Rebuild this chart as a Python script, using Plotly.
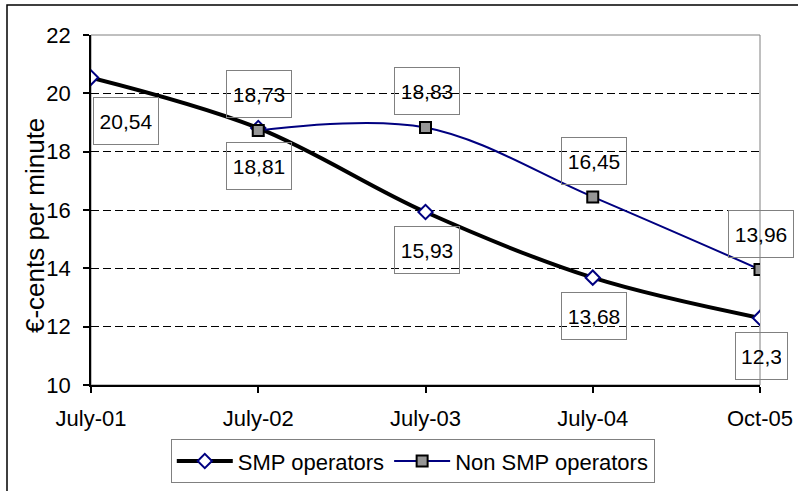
import plotly.graph_objects as go

categories = ["July-01", "July-02", "July-03", "July-04", "Oct-05"]
smp_values = [20.54, 18.81, 15.93, 13.68, 12.3]
non_smp_values = [None, 18.73, 18.83, 16.45, 13.96]
smp_labels = ["20,54", "18,81", "15,93", "13,68", "12,3"]
non_smp_labels = [None, "18,73", "18,83", "16,45", "13,96"]
y_ticks = [10, 12, 14, 16, 18, 20, 22]
y_title = "€-cents per minute"

FONT = "Liberation Sans, Arial, sans-serif"

fig = go.Figure()
fig.add_trace(go.Scatter(
    x=categories, y=smp_values, name="SMP operators", mode="lines+markers",
    line=dict(color="black", width=4, shape="spline", smoothing=1),
    marker=dict(symbol="diamond", size=11, color="white",
                line=dict(color="#000080", width=2)),
))
fig.add_trace(go.Scatter(
    x=categories, y=non_smp_values, name="Non SMP operators", mode="lines+markers",
    line=dict(color="#000080", width=2, shape="spline", smoothing=1),
    marker=dict(symbol="square", size=11, color="#969696",
                line=dict(color="black", width=2)),
    connectgaps=False,
))

annotations = []
def label(x, y, text, xshift, yshift):
    w = 39 if len(text) < 5 else 52
    annotations.append(dict(
        x=x, y=y, xref="x", yref="y", text=text, showarrow=False,
        xshift=xshift, yshift=yshift, width=w, height=34, borderpad=6,
        bordercolor="#808080", borderwidth=1, bgcolor="rgba(0,0,0,0)",
        font=dict(family=FONT, size=21, color="black"),
    ))

for i, (c, v, t) in enumerate(zip(categories, smp_values, smp_labels)):
    if i == 0:
        label(c, v, t, 35, -43)
    else:
        label(c, v, t, 1, -38)
for c, v, t in zip(categories, non_smp_values, non_smp_labels):
    if v is not None:
        label(c, v, t, 1, 36)

# y-axis title as rotated annotation (placed like the reference)
annotations.append(dict(
    x=(35 - 91) / 669, y=(385 - 226) / 350, xref="paper", yref="paper",
    text=y_title, textangle=-90, showarrow=False,
    xanchor="center", yanchor="middle",
    font=dict(family=FONT, size=26, color="black"),
))

FX0 = (7 - 91) / 669
FX1 = (810 - 91) / 669
FY0 = (385 - 500) / 350
FY1 = (385 - 5) / 350

fig.update_layout(
    template="none",
    width=798, height=491,
    margin=dict(l=91, r=38, t=35, b=106, autoexpand=False),
    paper_bgcolor="white", plot_bgcolor="white",
    font=dict(family=FONT, size=21, color="black"),
    showlegend=True,
    legend=dict(
        orientation="h", x=0.481, xanchor="center", y=-0.155, yanchor="top",
        bordercolor="#808080", borderwidth=1, bgcolor="white",
        font=dict(family=FONT, size=22, color="black"),
        itemwidth=56, tracegroupgap=0,
    ),
    annotations=annotations,
    shapes=[
        dict(type="rect", xref="paper", yref="paper", x0=0, x1=1, y0=0, y1=1,
             line=dict(color="#808080", width=1), layer="below"),
        dict(type="rect", xref="paper", yref="paper",
             x0=FX0, x1=FX1, y0=FY0, y1=FY1,
             line=dict(color="black", width=1.5), layer="above"),
    ],
)
fig.update_xaxes(
    type="category", range=[0, 4], showgrid=False, automargin=False,
    showline=True, linecolor="black", linewidth=1.5,
    ticks="outside", ticklen=6, tickcolor="black", tickwidth=1.5,
    ticklabelstandoff=7, tickfont=dict(size=22), zeroline=False,
)
fig.update_yaxes(
    range=[10, 22], tickvals=y_ticks, showgrid=True, automargin=False,
    gridcolor="black", gridwidth=1, griddash="8px,4px",
    showline=True, linecolor="black", linewidth=1.5,
    ticks="outside", ticklen=6, tickcolor="black", tickwidth=1.5,
    ticklabelstandoff=8, tickfont=dict(size=22), zeroline=False,
)

fig.write_html(
    "out.html",
    config={"displayModeBar": False},
    post_script="document.body.style.margin='0';document.body.style.overflow='hidden';",
)
